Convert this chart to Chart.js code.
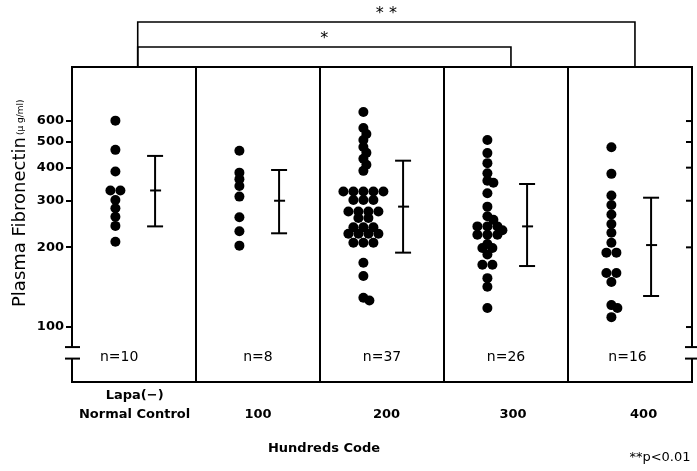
<!DOCTYPE html>
<html>
<head>
<meta charset="utf-8">
<script src="https://cdn.jsdelivr.net/npm/chart.js@4.4.1/dist/chart.umd.min.js"></script>
<style>
  html, body { margin: 0; padding: 0; background: #fff; }
  #wrap { position: relative; width: 697px; height: 471px; }
</style>
</head>
<body>
<div id="wrap"><canvas id="fnChart"></canvas></div>
<script>
'use strict';

// groups along the x axis
const groups = ['Normal Control', '100', '200', '300', '400'];
const groupNotes = ['Lapa(\u2212)', '', '', '', ''];
const nLabels = ['n=10', 'n=8', 'n=37', 'n=26', 'n=16'];
const yTicks = [100, 200, 300, 400, 500, 600];

// plasma fibronectin (ug/ml)
const normalControl = [602, 467, 387, 328, 328, 302, 281, 261, 241, 210];
const code100 = [463, 383, 362, 341, 311, 260, 230, 203];
const code200 = [649, 565, 536, 509, 479, 455, 432, 410, 389,
                 325, 325, 325, 325, 325, 302, 302, 302,
                 273, 273, 273, 273, 258, 258, 238, 238, 238,
                 225, 225, 225, 225, 208, 208, 208, 175, 156, 129, 126];
const code300 = [509, 454, 416, 381, 357, 351, 320, 285, 262, 254, 240, 240, 240,
                 232, 223, 223, 223, 206, 199, 199, 188, 172, 172, 153, 142, 118];
const code400 = [478, 379, 314, 289, 266, 245, 227, 208, 191, 191, 160, 160,
                 148, 121, 118, 109];
const seriesValues = [normalControl, code100, code200, code300, code400];

// mean and mean +/- SD bars
const means = [328, 300, 285, 240, 204];
const upper = [443, 392, 425, 347, 308];
const lower = [240, 226, 191, 170, 131];

// significance brackets
const brackets = [
    { from: 0, to: 4, label: '* *' },
    { from: 0, to: 3, label: '*' }
];
const footNote = '**p<0.01';
const xTitle = 'Hundreds Code';
const yTitle = 'Plasma Fibronectin';
const yUnit = '(\u03bc g/ml)';

const breakLow = 76;
const breakHigh = 84;
const dotPos = 0.35;
const barPos = 0.67;
const labelShift = [0.005, 0, 0.037, 0.056, 0.11];
const nShift = [-0.12, 0, 0, 0, -0.02];

const FONT = '"DejaVu Sans", sans-serif';

function line(ctx, x1, y1, x2, y2) {
    ctx.beginPath();
    ctx.moveTo(x1, y1);
    ctx.lineTo(x2, y2);
    ctx.stroke();
}

const decorations = {
    id: 'decorations',
    afterDraw(chart) {
        const ctx = chart.ctx;
        const a = chart.chartArea;
        const x = chart.scales.x;
        const y = chart.scales.y;
        ctx.save();
        ctx.strokeStyle = '#000';
        ctx.fillStyle = '#000';
        ctx.lineWidth = 2;

        // frame with axis break
        const gapTop = y.getPixelForValue(breakHigh);
        const gapBot = y.getPixelForValue(breakLow);
        line(ctx, a.left - 1, a.top, a.right + 1, a.top);
        line(ctx, a.left - 1, a.bottom, a.right + 1, a.bottom);
        line(ctx, a.left, a.top, a.left, gapTop);
        line(ctx, a.left, gapBot, a.left, a.bottom);
        line(ctx, a.left - 7, gapTop, a.left + 8, gapTop);
        line(ctx, a.left - 7, gapBot, a.left + 8, gapBot);
        line(ctx, a.right, a.top, a.right, gapTop);
        line(ctx, a.right, gapBot, a.right, a.bottom);
        line(ctx, a.right - 7, gapTop, a.right + 5, gapTop);
        line(ctx, a.right - 7, gapBot, a.right + 5, gapBot);
        for (let i = 1; i < groups.length; i++) {
            const px = x.getPixelForValue(i);
            line(ctx, px, a.top, px, a.bottom);
        }
        yTicks.forEach(v => {
            const py = y.getPixelForValue(v);
            line(ctx, a.right - 6, py, a.right, py);
        });

        // mean +/- SD
        groups.forEach((g, i) => {
            const px = x.getPixelForValue(i + barPos);
            const top = y.getPixelForValue(upper[i]);
            const bot = y.getPixelForValue(lower[i]);
            const mid = y.getPixelForValue(means[i]);
            line(ctx, px, top, px, bot);
            line(ctx, px - 8, top, px + 8, top);
            line(ctx, px - 8, bot, px + 8, bot);
            line(ctx, px - 5, mid, px + 6, mid);
        });

        // brackets
        const levels = [22, 47];
        ctx.lineWidth = 1.6;
        ctx.textAlign = 'center';
        ctx.textBaseline = 'middle';
        ctx.font = '16px ' + FONT;
        brackets.forEach((b, k) => {
            const x1 = x.getPixelForValue(b.from + 0.53);
            const x2 = x.getPixelForValue(b.to + 0.54);
            const by = levels[k];
            ctx.beginPath();
            ctx.moveTo(x1, a.top);
            ctx.lineTo(x1, by);
            ctx.lineTo(x2, by);
            ctx.lineTo(x2, a.top);
            ctx.stroke();
            ctx.fillText(b.label, (x1 + x2) / 2, by - 8);
        });

        // n labels
        ctx.font = '14px ' + FONT;
        groups.forEach((g, i) => {
            ctx.fillText(nLabels[i], x.getPixelForValue(i + 0.5 + nShift[i]), 357);
        });

        // category labels
        ctx.font = 'bold 13px ' + FONT;
        groups.forEach((g, i) => {
            const px = x.getPixelForValue(i + 0.5 + labelShift[i]);
            ctx.fillText(g, px, 415);
            if (groupNotes[i]) ctx.fillText(groupNotes[i], px, 396);
        });
        ctx.fillText(xTitle, 324, 449);
        ctx.font = '13px ' + FONT;
        ctx.fillText(footNote, 660, 458);

        // y title, rotated
        ctx.translate(25, 307);
        ctx.rotate(-Math.PI / 2);
        ctx.textAlign = 'left';
        ctx.textBaseline = 'alphabetic';
        ctx.font = '18px ' + FONT;
        ctx.fillText(yTitle, 0, 0);
        const w = ctx.measureText(yTitle).width;
        ctx.font = '9px ' + FONT;
        ctx.fillText(yUnit, w + 2, -2);
        ctx.restore();
    }
};

// spread overlapping dots sideways, rows of equal values centred
function swarm(chart) {
    const xs = chart.scales.x;
    const ys = chart.scales.y;
    const unit = xs.getPixelForValue(1) - xs.getPixelForValue(0);
    chart.data.datasets.forEach((ds, g) => {
        const placed = [];
        const pts = [];
        const uniq = [...new Set(seriesValues[g])].sort((p, q) => q - p);
        uniq.forEach(v => {
            const k = seriesValues[g].filter(u => u === v).length;
            const py = ys.getPixelForValue(v);
            const base = [];
            for (let j = 0; j < k; j++) base.push((j - (k - 1) / 2) * 10);
            let shift = 0;
            for (let s = 0; s < 40; s++) {
                shift = (s % 2 ? 1 : -1) * Math.ceil(s / 2) * 3;
                const ok = base.every(b => placed.every(p => Math.hypot(p[0] - b - shift, p[1] - py) >= 6.3));
                if (ok) break;
            }
            base.forEach(b => {
                placed.push([b + shift, py]);
                pts.push({ x: g + dotPos + (b + shift) / unit, y: v });
            });
        });
        ds.data = pts;
    });
    chart.update('none');
}

const ctx = document.getElementById('fnChart').getContext('2d');
const fnChart = new Chart(ctx, {
    type: 'scatter',
    data: {
        datasets: seriesValues.map((vals, g) => ({
            label: groups[g],
            data: vals.map(v => ({ x: g + dotPos, y: v })),
            pointRadius: 5,
            pointBackgroundColor: '#000',
            pointBorderWidth: 0
        }))
    },
    options: {
        responsive: true,
        maintainAspectRatio: false,
        animation: false,
        events: [],
        layout: { padding: { top: 67, right: 5, bottom: 89, left: 0 } },
        plugins: {
            legend: { display: false },
            tooltip: { enabled: false }
        },
        scales: {
            x: {
                type: 'linear',
                min: 0,
                max: groups.length,
                display: false
            },
            y: {
                type: 'logarithmic',
                min: 62,
                max: 960,
                afterBuildTicks: scale => { scale.ticks = yTicks.map(v => ({ value: v })); },
                afterFit: scale => { scale.width = 72; },
                border: { display: false },
                grid: {
                    drawOnChartArea: false,
                    drawTicks: true,
                    tickLength: 6,
                    color: '#000',
                    lineWidth: 2
                },
                ticks: {
                    color: '#000',
                    padding: 2,
                    font: { family: FONT, size: 13, weight: 'bold' },
                    callback: v => String(v)
                }
            }
        }
    },
    plugins: [decorations]
});
swarm(fnChart);
</script>
</body>
</html>
